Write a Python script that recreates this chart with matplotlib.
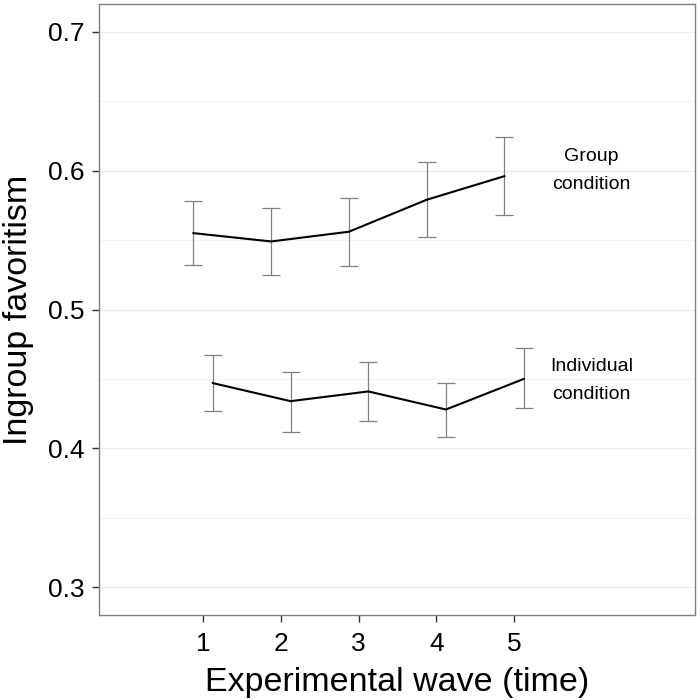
import numpy as np
import matplotlib
matplotlib.use("Agg")
import matplotlib.pyplot as plt

plt.rcParams['font.family'] = ['Liberation Sans', 'DejaVu Sans']

# data
waves = [1, 2, 3, 4, 5]

group_mean = [0.555, 0.549, 0.556, 0.579, 0.596]
group_low = [0.532, 0.525, 0.531, 0.552, 0.568]
group_high = [0.578, 0.573, 0.580, 0.606, 0.624]

indiv_mean = [0.447, 0.434, 0.441, 0.428, 0.450]
indiv_low = [0.427, 0.412, 0.420, 0.408, 0.429]
indiv_high = [0.467, 0.455, 0.462, 0.447, 0.472]

labels = ["Group\ncondition", "Individual\ncondition"]
label_y = [0.600, 0.449]
dodge = 0.125

fig = plt.figure(figsize=(7, 7), dpi=100)
ax = fig.add_axes([0.1414, 0.1214, 0.8516, 0.8729])

x = np.array(waves, dtype=float)
series = [
    (x - dodge, group_mean, group_low, group_high),
    (x + dodge, indiv_mean, indiv_low, indiv_high),
]
for xs, m, lo, hi in series:
    m = np.array(m); lo = np.array(lo); hi = np.array(hi)
    ax.errorbar(xs, m, yerr=[m - lo, hi - m], fmt='none', ecolor='#808080',
                elinewidth=0.9, capsize=6.5, capthick=0.9, zorder=2)
    ax.plot(xs, m, color='black', lw=1.5, zorder=3)

for lab, ly in zip(labels, label_y):
    ax.text(6.0, ly, lab, ha='center', va='center', fontsize=14,
            linespacing=1.8)

ax.set_xlim(-0.34, 7.33)
ax.set_ylim(0.28, 0.72)
ax.set_xticks(waves)
ax.set_yticks([0.3, 0.4, 0.5, 0.6, 0.7])
ax.set_yticks([0.35, 0.45, 0.55, 0.65], minor=True)
ax.yaxis.grid(True, which='major', color='#ececec', lw=0.8)
ax.yaxis.grid(True, which='minor', color='#f4f4f4', lw=0.8)
ax.set_axisbelow(True)
ax.tick_params(axis='both', which='major', labelsize=19, color='#333333',
               length=5, width=1)
ax.tick_params(axis='x', which='major', pad=7)
ax.tick_params(axis='y', which='major', pad=5.5)
ax.tick_params(axis='y', which='minor', length=0)
for s in ax.spines.values():
    s.set_color('#808080')
    s.set_linewidth(1)

ax.set_xlabel("Experimental wave (time)", fontsize=24.5, labelpad=8)
ax.set_ylabel("Ingroup favoritism", fontsize=24.5, labelpad=10)

fig.savefig("out.png", dpi=100)
